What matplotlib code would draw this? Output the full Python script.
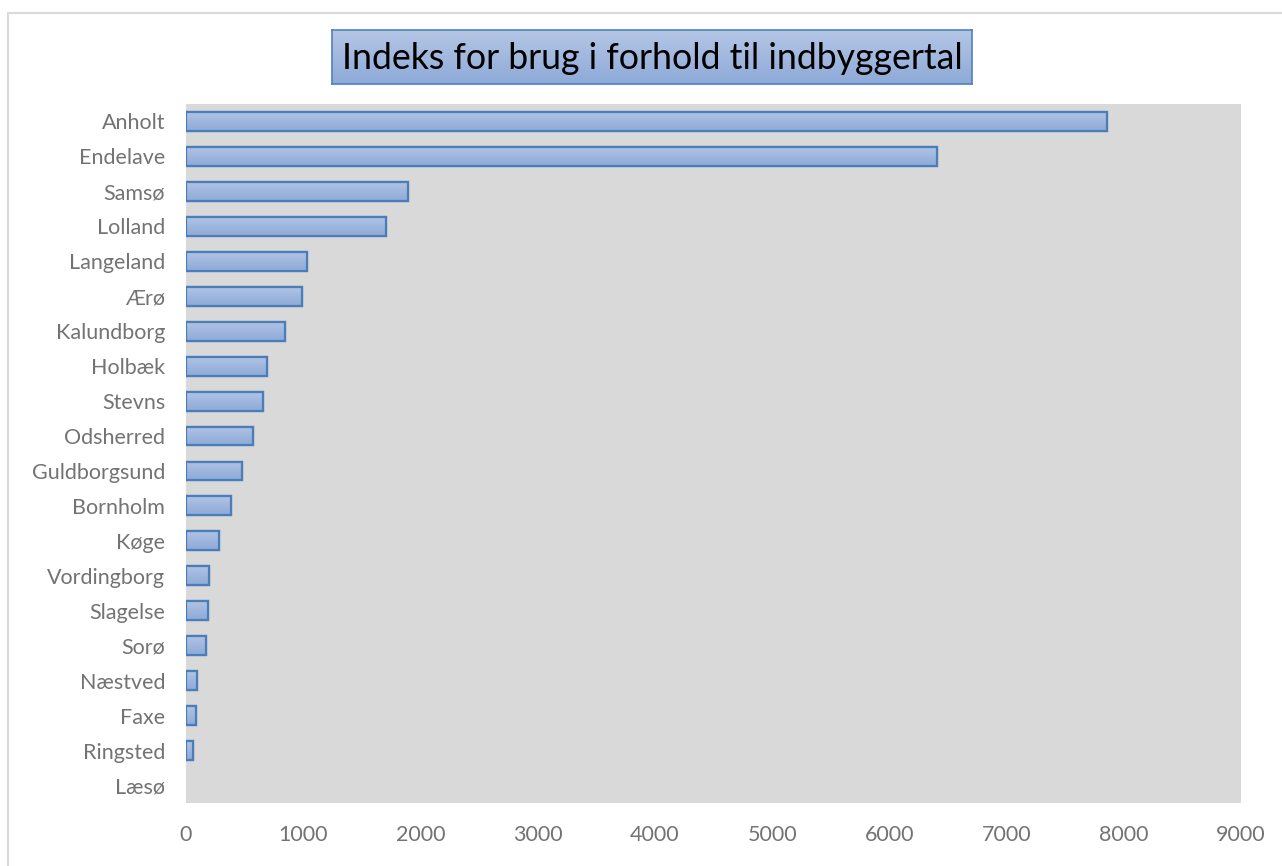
import numpy as np
import matplotlib.pyplot as plt
from matplotlib.patches import Rectangle

# ____ data ____
kommuner = ["Anholt", "Endelave", "Samsø", "Lolland", "Langeland", "Ærø",
            "Kalundborg", "Holbæk", "Stevns", "Odsherred", "Guldborgsund",
            "Bornholm", "Køge", "Vordingborg", "Slagelse", "Sorø", "Næstved",
            "Faxe", "Ringsted", "Læsø"]
indeks = [7860, 6405, 1895, 1705, 1035, 990, 845, 690, 660, 575, 478,
          384, 284, 198, 188, 170, 98, 85, 60, 0]
xticks = [0, 1000, 2000, 3000, 4000, 5000, 6000, 7000, 8000, 9000]

plt.rcParams['font.family'] = ['Lato', 'DejaVu Sans']

fig = plt.figure(figsize=(12.82, 8.66), dpi=100)
ax = fig.add_axes([186/1282, 1 - 803/866, 1055/1282, 699/866])
ax.set_facecolor('#d9d9d9')

pos = np.arange(len(kommuner))
bars = ax.barh(pos, indeks, height=0.54, color='#a3b8de',
               edgecolor='#4a7ebb', linewidth=1.6, zorder=3)

# gradient fill inside each bar
grad = np.linspace(0, 1, 64).reshape(-1, 1)
cmap = plt.matplotlib.colors.LinearSegmentedColormap.from_list(
    'g', ['#b0c3e4', '#8eaad8'])
for b in bars:
    if b.get_width() <= 0:
        b.set_linewidth(0)
        continue
    x0, y0 = b.get_x(), b.get_y()
    im = ax.imshow(grad, extent=[x0, x0 + b.get_width(), y0 + b.get_height(), y0],
                   cmap=cmap, aspect='auto', zorder=3.5, interpolation='bilinear')
    im.set_clip_path(b)
    b2 = Rectangle((x0, y0), b.get_width(), b.get_height(), fill=False,
                   edgecolor='#4a7ebb', linewidth=1.6, zorder=4)
    ax.add_patch(b2)

ax.set_xlim(0, 9000)
ax.set_ylim(len(kommuner) - 0.5, -0.5)
ax.set_yticks(pos)
ax.set_yticklabels(kommuner)
ax.set_xticks(xticks)
ax.tick_params(axis='both', length=0, labelsize=15.5, labelcolor='#737373')
ax.tick_params(axis='y', pad=15)
ax.tick_params(axis='x', pad=16)
for s in ax.spines.values():
    s.set_visible(False)

# title box with gradient
tax = fig.add_axes([332/1282, 1 - 84/866, 640/1282, 54/866])
tcmap = plt.matplotlib.colors.LinearSegmentedColormap.from_list(
    't', ['#b5c6e5', '#8eaad8'])
tax.imshow(grad, cmap=tcmap, aspect='auto', extent=[0, 1, 0, 1])
tax.set_xticks([])
tax.set_yticks([])
for s in tax.spines.values():
    s.set_color('#4f81bd')
    s.set_linewidth(1.2)
tax.text(0.5, 0.48, "Indeks for brug i forhold til indbyggertal", fontsize=25.7,
         ha='center', va='center', color='black', transform=tax.transAxes)

# outer chart border (only top and left edges fall inside the image)
fig.patches.append(Rectangle((8/1282, -0.05), 1.2, 1 - 13/866 + 0.05, fill=False,
                             edgecolor='#d9d9d9', linewidth=1.5,
                             transform=fig.transFigure))

fig.savefig('out.png', dpi=100)
